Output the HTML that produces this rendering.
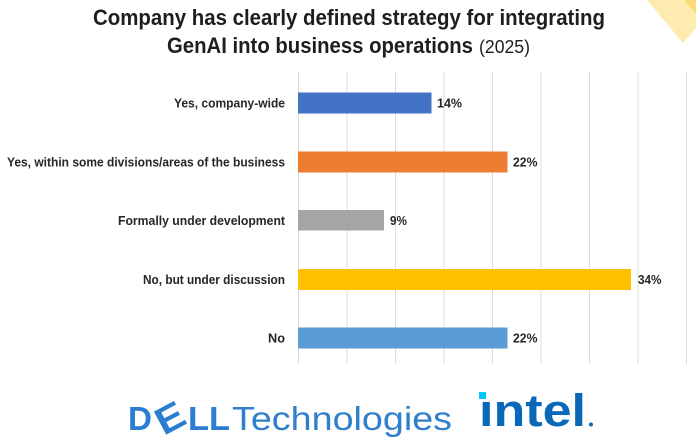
<!DOCTYPE html>
<html>
<head>
<meta charset="utf-8">
<style>
  html, body { margin: 0; padding: 0; background: #ffffff; }
  body { width: 696px; height: 448px; overflow: hidden; }
  svg { display: block; }
</style>
</head>
<body>
<svg width="696" height="448" viewBox="0 0 696 448" xmlns="http://www.w3.org/2000/svg">
  <rect x="0" y="0" width="696" height="448" fill="#ffffff"/>

  <!-- decoration top-right -->
  <polygon points="647,0 683,43 696,28 696,0" fill="#fdebb0"/>
  <polygon points="684,0 696,0 696,14" fill="#fcdc78"/>

  <!-- Title -->
  <text x="93" y="25" font-family="'Liberation Sans', sans-serif" font-weight="bold" font-size="22" fill="#1e1e1e" textLength="512" lengthAdjust="spacingAndGlyphs">Company has clearly defined strategy for integrating</text>
  <text x="167" y="53" font-family="'Liberation Sans', sans-serif" font-weight="bold" font-size="22" fill="#1e1e1e" textLength="306" lengthAdjust="spacingAndGlyphs">GenAI into business operations</text>
  <text x="479" y="53" font-family="'Liberation Sans', sans-serif" font-size="18" fill="#1e1e1e" textLength="51" lengthAdjust="spacingAndGlyphs">(2025)</text>

  <!-- Gridlines -->
  <g stroke="#dcdcdc" stroke-width="1">
    <line x1="298.5" y1="72" x2="298.5" y2="364"/>
    <line x1="347" y1="72" x2="347" y2="364"/>
    <line x1="395.5" y1="72" x2="395.5" y2="364"/>
    <line x1="444" y1="72" x2="444" y2="364"/>
    <line x1="492.5" y1="72" x2="492.5" y2="364"/>
    <line x1="541" y1="72" x2="541" y2="364"/>
    <line x1="589.5" y1="72" x2="589.5" y2="364"/>
    <line x1="638" y1="72" x2="638" y2="364"/>
    <line x1="686.5" y1="72" x2="686.5" y2="364"/>
  </g>

  <!-- Bars -->
  <rect x="298" y="92.5" width="133.5" height="21" fill="#4472c4"/>
  <rect x="298" y="151.5" width="209.5" height="21" fill="#ed7d31"/>
  <rect x="298" y="210" width="86" height="20.5" fill="#a5a5a5"/>
  <rect x="298" y="269" width="333" height="21" fill="#ffc000"/>
  <rect x="298" y="327.5" width="209.5" height="21" fill="#5b9bd5"/>

  <!-- Category labels -->
  <g font-family="'Liberation Sans', sans-serif" font-weight="bold" font-size="12.5" fill="#262626">
    <text x="174" y="107.5" textLength="111" lengthAdjust="spacingAndGlyphs">Yes, company-wide</text>
    <text x="7" y="166.5" textLength="278" lengthAdjust="spacingAndGlyphs">Yes, within some divisions/areas of the business</text>
    <text x="118" y="225" textLength="167" lengthAdjust="spacingAndGlyphs">Formally under development</text>
    <text x="143" y="284" textLength="142" lengthAdjust="spacingAndGlyphs">No, but under discussion</text>
    <text x="268" y="342.5" textLength="17" lengthAdjust="spacingAndGlyphs">No</text>
  </g>

  <!-- Value labels -->
  <g font-family="'Liberation Sans', sans-serif" font-weight="bold" font-size="12.5" fill="#262626">
    <text x="437" y="107.5" textLength="25" lengthAdjust="spacingAndGlyphs">14%</text>
    <text x="513" y="166.5" textLength="24.5" lengthAdjust="spacingAndGlyphs">22%</text>
    <text x="390" y="225" textLength="17" lengthAdjust="spacingAndGlyphs">9%</text>
    <text x="638" y="284" textLength="23.5" lengthAdjust="spacingAndGlyphs">34%</text>
    <text x="513" y="342.5" textLength="24.5" lengthAdjust="spacingAndGlyphs">22%</text>
  </g>

  <!-- Dell Technologies logo -->
  <g font-family="'Liberation Sans', sans-serif" font-weight="bold" font-size="33" fill="#2a7dd1">
    <text x="128" y="430" textLength="24" lengthAdjust="spacingAndGlyphs">D</text>
    <text x="156" y="431" font-size="38" textLength="28" lengthAdjust="spacingAndGlyphs" transform="rotate(-28 170 418)">E</text>
    <text x="188" y="430" textLength="42" lengthAdjust="spacingAndGlyphs">LL</text>
  </g>
  <text x="232" y="430" font-family="'Liberation Sans', sans-serif" font-size="33" fill="#2f7fcc" textLength="220" lengthAdjust="spacingAndGlyphs">Technologies</text>

  <!-- intel logo -->
  <rect x="479" y="392" width="7" height="7" fill="#00c7fd"/>
  <text x="479" y="426" font-family="'Liberation Sans', sans-serif" font-weight="bold" font-size="45" fill="#0a68b8" textLength="107" lengthAdjust="spacingAndGlyphs">ıntel</text>
  <circle cx="591" cy="424.5" r="2" fill="#0a68b8"/>
</svg>
</body>
</html>
